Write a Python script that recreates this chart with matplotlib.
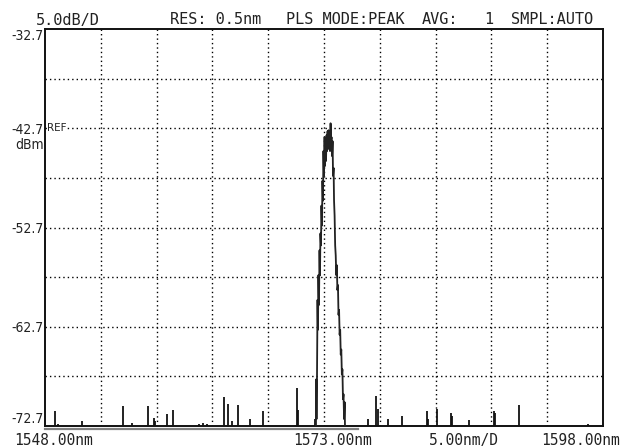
import matplotlib.pyplot as plt

# spectrum: main peak trace (nm, dBm)
peak_wl = [1572.28, 1572.30, 1572.33, 1572.37, 1572.42, 1572.46, 1572.50, 1572.55,
           1572.60, 1572.64, 1572.68, 1572.73, 1572.77, 1572.82, 1572.86, 1572.91,
           1572.95, 1573.00, 1573.05, 1573.09, 1573.14, 1573.18, 1573.23, 1573.27,
           1573.32, 1573.36, 1573.41, 1573.45, 1573.50, 1573.54, 1573.59, 1573.63,
           1573.68, 1573.72, 1573.77, 1573.81, 1573.86, 1573.90, 1573.95, 1574.00,
           1574.05, 1574.10, 1574.15, 1574.20, 1574.25, 1574.30, 1574.35, 1574.40,
           1574.45, 1574.50, 1574.55, 1574.60, 1574.65, 1574.70, 1574.75, 1574.80,
           1574.85, 1574.88]
peak_db = [-72.7, -68.0, -72.0, -68.2, -60.0, -63.0, -57.5, -60.5,
           -55.0, -57.5, -53.3, -54.5, -50.5, -52.5, -48.0, -50.0,
           -45.0, -47.5, -43.6, -46.5, -43.8, -46.0, -43.4, -45.0,
           -43.0, -44.5, -42.9, -44.8, -43.3, -45.0, -42.2, -44.0,
           -43.6, -45.5, -44.0, -47.5, -46.7, -50.0, -51.5, -54.5,
           -55.5, -57.5, -56.5, -59.0, -58.5, -61.5, -61.0, -63.5,
           -63.0, -65.5, -65.0, -67.5, -67.0, -70.0, -69.5, -72.0,
           -70.3, -72.7]

# noise spikes above the floor
spike_wl = [1548.9, 1549.2, 1551.3, 1555.0, 1555.8, 1557.2, 1557.8, 1557.9,
            1558.9, 1559.5, 1561.8, 1562.2, 1562.5, 1564.0, 1564.4, 1564.8,
            1565.3, 1566.4, 1567.5, 1570.6, 1570.7, 1572.2, 1576.9, 1577.7,
            1577.8, 1578.7, 1580.0, 1582.2, 1582.3, 1583.1, 1584.4, 1584.45,
            1586.0, 1588.2, 1588.3, 1590.5, 1596.7]
spike_db = [-71.2, -72.5, -72.2, -70.7, -72.4, -70.7, -71.9, -72.2,
            -71.5, -71.1, -72.5, -72.4, -72.5, -69.8, -70.5, -72.2,
            -70.6, -72.0, -71.2, -68.9, -71.1, -72.0, -72.0, -69.7,
            -71.0, -72.0, -71.7, -71.2, -72.0, -71.0, -71.4, -71.7,
            -72.1, -71.2, -71.4, -70.6, -72.5]

y_ticks = [-32.7, -42.7, -52.7, -62.7, -72.7]
y_labels = ["-32.7", "-42.7", "-52.7", "-62.7", "-72.7"]

header = [("5.0dB/D", 36), ("RES: 0.5nm", 170), ("PLS MODE:PEAK", 286),
          ("AVG:", 422), ("1", 484), ("SMPL:AUTO", 511)]
footer = [("1548.00nm", 14), ("1573.00nm", 293), ("5.00nm/D", 429), ("1598.00nm", 541)]

W, H = 634, 448
fig = plt.figure(figsize=(W / 100, H / 100), dpi=100)
ax = fig.add_axes([45 / W, 1 - 426 / H, 558 / W, 397 / H])

ax.set_xlim(1548, 1598)
ax.set_ylim(-72.7, -32.7)

# dotted grid, 10 x 8 divisions
for i in range(1, 10):
    ax.axvline(1548 + 5 * i, color='black', lw=1.0, ls=(0, (1, 2.2)), zorder=1)
for i in range(1, 8):
    ax.axhline(-72.7 + 5 * i, color='black', lw=1.0, ls=(0, (1, 2.2)), zorder=1)

ax.vlines(spike_wl, -73, spike_db, color='#111111', lw=1.3, zorder=3)
ax.plot(peak_wl, peak_db, color='#222222', lw=1.3, zorder=3)

for s in ax.spines.values():
    s.set_linewidth(1.4)
    s.set_color('#111111')

ax.set_xticks([])
ax.set_yticks(y_ticks)
ax.set_yticklabels(y_labels, fontsize=10, fontstretch='condensed', color='#222222')
ax.tick_params(axis='y', length=0, pad=1)
labs = ax.get_yticklabels()
labs[0].set_verticalalignment('top')
labs[-1].set_verticalalignment('bottom')

ax.text(0.004, -42.7, "REF", fontsize=7.5, va='center', ha='left',
        transform=ax.get_yaxis_transform(), color='#222222',
        bbox=dict(facecolor='white', edgecolor='none', pad=0.3))
fig.text(44 / W, 1 - 145 / H, "dBm", fontsize=10, fontstretch='condensed',
         ha='right', va='center', color='#222222')

# gray bar under the lower border
ax.plot([0, 313 / 558], [-0.007, -0.007], transform=ax.transAxes,
        clip_on=False, color='0.5', lw=1.6)

for txt, x in header:
    fig.text(x / W, 1 - 20 / H, txt, fontsize=11, family='DejaVu Sans Mono',
             ha='left', va='center', color='#222222')
for txt, x in footer:
    fig.text(x / W, 1 - 440 / H, txt, fontsize=10.5, family='DejaVu Sans Mono',
             ha='left', va='center', color='#222222')

plt.savefig("out.png", dpi=100)
